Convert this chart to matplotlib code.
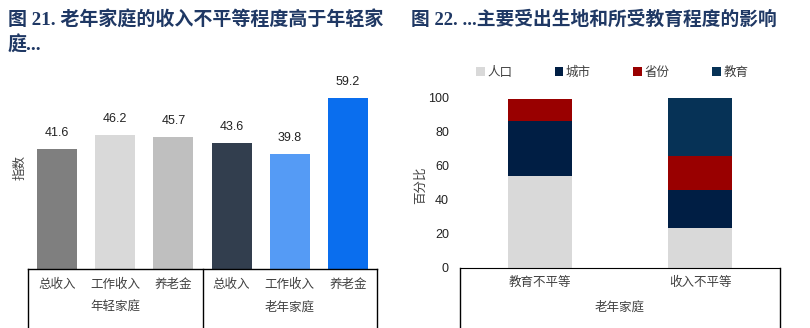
import matplotlib
matplotlib.use("Agg")
import matplotlib.pyplot as plt
from matplotlib.lines import Line2D
from matplotlib.patches import Patch
from matplotlib.transforms import blended_transform_factory

plt.rcParams['font.family'] = ['Liberation Sans', 'Noto Sans CJK SC']

# 图 21 数据
income_types = ["总收入", "工作收入", "养老金", "总收入", "工作收入", "养老金"]
household_groups = ["年轻家庭", "老年家庭"]
gini_index = [41.6, 46.2, 45.7, 43.6, 39.8, 59.2]
bar_colors = ["#7f7f7f", "#d9d9d9", "#bfbfbf", "#323e4e", "#559bf5", "#0a6eee"]

# 图 22 数据
inequality_types = ["教育不平等", "收入不平等"]
factor_names = ["人口", "城市", "省份", "教育"]
share_population = [54.1, 23.3]
share_city = [32.4, 22.4]
share_province = [13.1, 20.2]
share_education = [0.0, 34.1]
factor_colors = ["#d9d9d9", "#001e44", "#990000", "#063256"]

title_color = "#1f3864"
label_color = "#404040"
W, H = 810, 328

fig = plt.figure(figsize=(W / 100, H / 100), dpi=100)

def fx(px):
    return px / W

def fy(py):
    return 1 - py / H

# titles
title_font = ['Liberation Serif', 'Noto Sans CJK SC']
fig.text(fx(8), fy(20), "图 21. 老年家庭的收入不平等程度高于年轻家", fontsize=13.7,
         fontweight='bold', color=title_color, family=title_font, va='center')
fig.text(fx(8), fy(45), "庭...", fontsize=13.7, fontweight='bold',
         color=title_color, family=title_font, va='center')
fig.text(fx(411), fy(20), "图 22. ...主要受出生地和所受教育程度的影响", fontsize=13.5,
         fontweight='bold', color=title_color, family=title_font, va='center')

# ---- left chart ----
ax1 = fig.add_axes([fx(28), fy(269), fx(377) - fx(28), fy(81) - fy(269)])
x = list(range(len(gini_index)))
ax1.bar(x, gini_index, width=0.69, color=bar_colors)
for xi, v in zip(x, gini_index):
    ax1.text(xi, v + 3.5, f"{v:.1f}", ha='center', va='bottom', fontsize=9, color='#222222')
ax1.set_xlim(-0.5, 5.5)
ax1.set_ylim(0, 65)
ax1.set_xticks([])
ax1.set_yticks([])
for s in ['left', 'right', 'top']:
    ax1.spines[s].set_visible(False)
ax1.spines['bottom'].set_color('black')
ax1.spines['bottom'].set_linewidth(1)

tr1 = blended_transform_factory(ax1.transData, fig.transFigure)
for xi, lab in zip(x, income_types):
    ax1.text(xi, fy(285), lab, transform=tr1, ha='center', va='center',
             fontsize=9, color=label_color)
for gi, g in enumerate(household_groups):
    ax1.text(gi * 3 + 1, fy(308), g, transform=tr1, ha='center', va='center',
             fontsize=9, color=label_color)
for xv in [-0.5, 2.5, 5.5]:
    ax1.add_line(Line2D([xv, xv], [fy(269), 0], transform=tr1, color='black',
                        lw=1, clip_on=False))
fig.text(fx(20), fy(168), "指数", rotation=90, ha='center', va='center',
         fontsize=9, color=label_color)

# ---- right chart ----
ax2 = fig.add_axes([fx(460), fy(268), fx(780) - fx(460), fy(98) - fy(268)])
pos = [0, 1]
bottom = [0.0, 0.0]
for name, vals, col in zip(factor_names,
                           [share_population, share_city, share_province, share_education],
                           factor_colors):
    ax2.bar(pos, vals, width=0.4, bottom=bottom, color=col, label=name)
    bottom = [b + v for b, v in zip(bottom, vals)]
ax2.set_xlim(-0.5, 1.5)
ax2.set_ylim(0, 100)
ax2.set_yticks([0, 20, 40, 60, 80, 100])
ax2.tick_params(axis='y', length=0, pad=8, labelsize=9, labelcolor='#222222')
ax2.set_xticks([])
for s in ['left', 'right', 'top']:
    ax2.spines[s].set_visible(False)
ax2.spines['bottom'].set_color('black')

tr2 = blended_transform_factory(ax2.transData, fig.transFigure)
for p, lab in zip(pos, inequality_types):
    ax2.text(p, fy(283), lab, transform=tr2, ha='center', va='center',
             fontsize=9, color=label_color)
ax2.text(0.5, fy(308), "老年家庭", transform=tr2, ha='center', va='center',
         fontsize=9, color=label_color)
for xv in [-0.5, 1.5]:
    ax2.add_line(Line2D([xv, xv], [fy(268), 0], transform=tr2, color='black',
                        lw=1, clip_on=False))
fig.text(fx(421), fy(185), "百分比", rotation=90, ha='center', va='center',
         fontsize=9, color=label_color)

handles = [Patch(facecolor=c) for c in factor_colors]
fig.legend(handles, factor_names, loc='center', bbox_to_anchor=(fx(612), fy(73)),
           ncol=4, frameon=False, fontsize=9, handlelength=0.7, handleheight=0.7,
           handletextpad=0.2, columnspacing=3.4, labelcolor=label_color)

fig.savefig("out.png", dpi=100)
